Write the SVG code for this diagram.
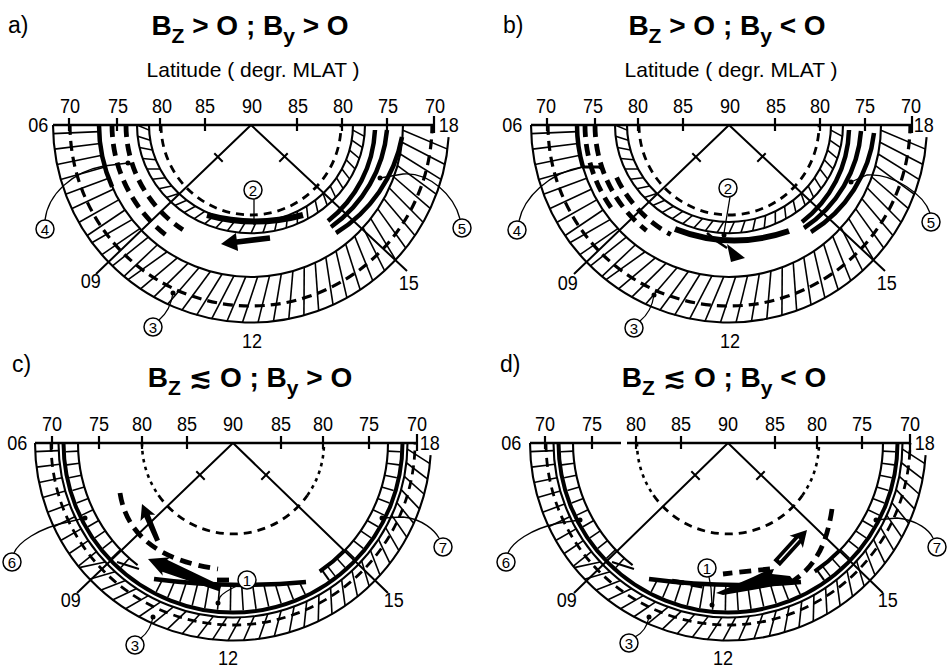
<svg xmlns="http://www.w3.org/2000/svg" width="948" height="670" viewBox="0 0 948 670">
<style>
.h{stroke:#000;stroke-width:1.6}
.e{fill:none;stroke:#000;stroke-width:2.1}
.th{fill:none;stroke:#000;stroke-width:4.5}
.tc{fill:none;stroke:#000;stroke-width:4}
.dO{fill:none;stroke:#000;stroke-width:3.2;stroke-dasharray:10 6}
.dC{fill:none;stroke:#000;stroke-width:2.8;stroke-dasharray:9 6}
.d80{fill:none;stroke:#000;stroke-width:2.8;stroke-dasharray:8 6}
.dS{fill:none;stroke:#000;stroke-width:2.6;stroke-dasharray:3.5 4.5}
.dT{fill:none;stroke:#000;stroke-width:4.8;stroke-dasharray:12 7}
.ax{fill:none;stroke:#000;stroke-width:2.7}
.tm{fill:none;stroke:#000;stroke-width:2.2}
.ln{fill:none;stroke:#000;stroke-width:2}
.ld{fill:none;stroke:#000;stroke-width:1.3}
.cl{fill:#fff;stroke:#000;stroke-width:1.5}
text{font-family:"Liberation Sans",Arial,"DejaVu Sans",sans-serif;fill:#000}
.tk,.hr,.he{font-size:21px;transform-box:fill-box;transform-origin:center;transform:scaleX(0.86)}
.tk{text-anchor:middle}
.he{text-anchor:end}
.cn{font-size:15px;text-anchor:middle}
.ti{font-size:28px;font-weight:bold;text-anchor:middle}
.pl{font-size:23px}
.la{font-size:21px;text-anchor:middle}
</style>
<defs>
<line id="l0" class="h" x1="152" y1="0" x2="198" y2="0"/>
<line id="l2" class="h" x1="152" y1="0" x2="197.88" y2="6.91"/>
<line id="l5" class="h" x1="152" y1="0" x2="197.25" y2="17.26"/>
<line id="m0" class="h" x1="174.5" y1="0" x2="198" y2="0"/>
<line id="m4" class="h" x1="174.5" y1="0" x2="197.52" y2="13.81"/>
<line id="n" class="h" x1="102" y1="0" x2="113.84" y2="5.97"/>
<line id="p" class="h" x1="155" y1="0" x2="167.5" y2="0"/>
<line id="q" class="h" x1="130" y1="0" x2="167.5" y2="0"/>
<polygon id="arrBig" points="0,0 -20,-10 -18,-6.5 -78,-3 -78,3 -18,6.5 -20,10"/>
<polygon id="arrSm" points="0,0 -15,-8 -13,-3 -40,-2.5 -40,2.5 -13,3 -15,8"/>
<clipPath id="cs"><path d="M-80 135.5Q-3 146 74 138.5L74 180L-80 180Z"/></clipPath>
<g id="bandAB">
<path class="e" d="M-198 0A198 198 0 0 0 197.6 12.1"/>
<path class="e" d="M-152 0A152 152 0 0 0 152 0"/>
<use href="#l5" transform="rotate(2)"/><use href="#l5" transform="rotate(6.5)"/><use href="#l5" transform="rotate(11)"/><use href="#l5" transform="rotate(15.5)"/><use href="#l5" transform="rotate(20)"/><use href="#l5" transform="rotate(24.5)"/><use href="#l5" transform="rotate(29)"/><use href="#l5" transform="rotate(33.5)"/><use href="#l5" transform="rotate(38)"/><use href="#l5" transform="rotate(42.5)"/><use href="#l5" transform="rotate(47)"/><use href="#l5" transform="rotate(51.5)"/><use href="#l5" transform="rotate(56)"/><use href="#l5" transform="rotate(60.5)"/><use href="#l5" transform="rotate(65)"/><use href="#l5" transform="rotate(69.5)"/><use href="#l5" transform="rotate(74)"/><use href="#l5" transform="rotate(78.5)"/><use href="#l5" transform="rotate(83)"/><use href="#l5" transform="rotate(87.5)"/><use href="#l5" transform="rotate(92)"/><use href="#l5" transform="rotate(96.5)"/><use href="#l5" transform="rotate(101)"/><use href="#l5" transform="rotate(105.5)"/><use href="#l5" transform="rotate(110)"/><use href="#l5" transform="rotate(114.5)"/><use href="#l5" transform="rotate(119)"/><use href="#l5" transform="rotate(123.5)"/>
<use href="#l2" transform="rotate(128)"/><use href="#l2" transform="rotate(132.5)"/><use href="#l2" transform="rotate(137)"/><use href="#l2" transform="rotate(141.5)"/>
<use href="#l0" transform="rotate(146)"/><use href="#l0" transform="rotate(150.5)"/><use href="#l0" transform="rotate(155)"/><use href="#l0" transform="rotate(159.5)"/><use href="#l0" transform="rotate(164)"/><use href="#l0" transform="rotate(168.5)"/><use href="#l0" transform="rotate(173)"/><use href="#l0" transform="rotate(177.5)"/>
<path class="dO" d="M-181 0A181 181 0 0 0 181 0"/>
</g>
<g id="ringAB" transform="scale(1 0.95)">
<path class="e" d="M-114 0A114 114 0 0 0 114 0"/>
<path class="e" d="M-102 0A102 102 0 0 0 102 0"/>
<use href="#n" transform="rotate(3)"/><use href="#n" transform="rotate(9)"/><use href="#n" transform="rotate(15)"/><use href="#n" transform="rotate(21)"/><use href="#n" transform="rotate(27)"/><use href="#n" transform="rotate(33)"/><use href="#n" transform="rotate(39)"/><use href="#n" transform="rotate(45)"/><use href="#n" transform="rotate(51)"/><use href="#n" transform="rotate(57)"/><use href="#n" transform="rotate(63)"/><use href="#n" transform="rotate(69)"/><use href="#n" transform="rotate(75)"/><use href="#n" transform="rotate(81)"/><use href="#n" transform="rotate(87)"/><use href="#n" transform="rotate(93)"/><use href="#n" transform="rotate(99)"/><use href="#n" transform="rotate(105)"/><use href="#n" transform="rotate(111)"/><use href="#n" transform="rotate(117)"/><use href="#n" transform="rotate(123)"/><use href="#n" transform="rotate(129)"/><use href="#n" transform="rotate(135)"/><use href="#n" transform="rotate(141)"/><use href="#n" transform="rotate(147)"/><use href="#n" transform="rotate(153)"/><use href="#n" transform="rotate(159)"/><use href="#n" transform="rotate(165)"/><use href="#n" transform="rotate(171)"/><use href="#n" transform="rotate(177)"/>
</g>
<g id="bandCD">
<path class="e" d="M-198 0A198 198 0 0 0 197.6 12.1"/>
<path class="e" d="M-174.5 0A174.5 174.5 0 0 0 174.5 0"/>
<use href="#m4" transform="rotate(2)"/><use href="#m4" transform="rotate(6.5)"/><use href="#m4" transform="rotate(11)"/><use href="#m4" transform="rotate(15.5)"/><use href="#m4" transform="rotate(20)"/><use href="#m4" transform="rotate(24.5)"/><use href="#m4" transform="rotate(29)"/><use href="#m4" transform="rotate(33.5)"/><use href="#m4" transform="rotate(38)"/><use href="#m4" transform="rotate(42.5)"/><use href="#m4" transform="rotate(47)"/><use href="#m4" transform="rotate(51.5)"/><use href="#m4" transform="rotate(56)"/><use href="#m4" transform="rotate(60.5)"/><use href="#m4" transform="rotate(65)"/><use href="#m4" transform="rotate(69.5)"/><use href="#m4" transform="rotate(74)"/><use href="#m4" transform="rotate(78.5)"/><use href="#m4" transform="rotate(83)"/><use href="#m4" transform="rotate(87.5)"/><use href="#m4" transform="rotate(92)"/><use href="#m4" transform="rotate(96.5)"/><use href="#m4" transform="rotate(101)"/><use href="#m4" transform="rotate(105.5)"/><use href="#m4" transform="rotate(110)"/><use href="#m4" transform="rotate(114.5)"/><use href="#m4" transform="rotate(119)"/><use href="#m4" transform="rotate(123.5)"/><use href="#m4" transform="rotate(128)"/><use href="#m4" transform="rotate(132.5)"/><use href="#m4" transform="rotate(137)"/>
<use href="#m0" transform="rotate(141.5)"/><use href="#m0" transform="rotate(146)"/><use href="#m0" transform="rotate(150.5)"/><use href="#m0" transform="rotate(155)"/><use href="#m0" transform="rotate(159.5)"/><use href="#m0" transform="rotate(164)"/><use href="#m0" transform="rotate(168.5)"/><use href="#m0" transform="rotate(173)"/><use href="#m0" transform="rotate(177.5)"/>
<path class="dC" d="M-182 0A182 182 0 0 0 182 0"/>
<path class="tc" d="M-169.5 0A169.5 169.5 0 0 0 169.5 0"/>
</g>
<g id="ringsCD">
<path class="e" d="M-155 0A155 155 0 0 0 -95.4 122.1"/>
<path class="e" d="M-116 119L-94 126"/>
<path class="e" d="M155 0A155 155 0 0 1 88.9 127"/>
<line class="e" x1="88.9" y1="127" x2="96.1" y2="137.2"/>
<path class="tc" d="M111.5 107.7A155 155 0 0 1 86.7 128.5"/>
<use href="#p" transform="rotate(132)"/><use href="#p" transform="rotate(136.5)"/><use href="#p" transform="rotate(141)"/><use href="#p" transform="rotate(145.5)"/><use href="#p" transform="rotate(150)"/><use href="#p" transform="rotate(154.5)"/><use href="#p" transform="rotate(159)"/><use href="#p" transform="rotate(163.5)"/><use href="#p" transform="rotate(168)"/><use href="#p" transform="rotate(172.5)"/><use href="#p" transform="rotate(177)"/>
<use href="#p" transform="rotate(3)"/><use href="#p" transform="rotate(7.5)"/><use href="#p" transform="rotate(12)"/><use href="#p" transform="rotate(16.5)"/><use href="#p" transform="rotate(21)"/><use href="#p" transform="rotate(25.5)"/><use href="#p" transform="rotate(30)"/><use href="#p" transform="rotate(34.5)"/><use href="#p" transform="rotate(39)"/><use href="#p" transform="rotate(43.5)"/><use href="#p" transform="rotate(48)"/><use href="#p" transform="rotate(52.5)"/>
</g>
<g id="seg1">
<g clip-path="url(#cs)">
<use href="#q" transform="rotate(64.5)"/><use href="#q" transform="rotate(68.9)"/><use href="#q" transform="rotate(73.3)"/><use href="#q" transform="rotate(77.7)"/><use href="#q" transform="rotate(82.1)"/><use href="#q" transform="rotate(86.5)"/><use href="#q" transform="rotate(90.9)"/><use href="#q" transform="rotate(95.3)"/><use href="#q" transform="rotate(99.7)"/><use href="#q" transform="rotate(104.1)"/><use href="#q" transform="rotate(108.5)"/><use href="#q" transform="rotate(112.9)"/><use href="#q" transform="rotate(117.3)"/>
</g>
<path class="th" d="M-79 136Q-3 146 73 139"/>
</g>
<g id="d80cd">
<path class="dS" d="M-91 0A91 91 0 0 0 -74.5 52.2"/>
<path class="d80" d="M-74.5 52.2A91 91 0 0 0 74.5 52.2"/>
<path class="dS" d="M74.5 52.2A91 91 0 0 0 91 0"/>
</g>
</defs>
<rect width="948" height="670" fill="#fff"/>

<g id="titles">
<text class="pl" x="8" y="33">a)</text>
<text class="ti" x="250" y="35">B<tspan font-size="21" dy="8">Z</tspan><tspan dy="-8"> &gt; O ; B</tspan><tspan font-size="21" dy="8">y</tspan><tspan dy="-8"> &gt; O</tspan></text>
<text class="la" x="253" y="77">Latitude ( degr. MLAT )</text>
<text class="pl" x="503" y="33">b)</text>
<text class="ti" x="727" y="35">B<tspan font-size="21" dy="8">Z</tspan><tspan dy="-8"> &gt; O ; B</tspan><tspan font-size="21" dy="8">y</tspan><tspan dy="-8"> &lt; O</tspan></text>
<text class="la" x="731" y="77">Latitude ( degr. MLAT )</text>
<text class="pl" x="12" y="372">c)</text>
<text class="ti" x="250" y="387">B<tspan font-size="21" dy="8">Z</tspan><tspan dy="-8"> &#8818; O ; B</tspan><tspan font-size="21" dy="8">y</tspan><tspan dy="-8"> &gt; O</tspan></text>
<text class="pl" x="500" y="372">d)</text>
<text class="ti" x="724" y="387">B<tspan font-size="21" dy="8">Z</tspan><tspan dy="-8"> &#8818; O ; B</tspan><tspan font-size="21" dy="8">y</tspan><tspan dy="-8"> &lt; O</tspan></text>
</g>

<g id="panel-a" transform="translate(251 125)">
<use href="#bandAB"/>
<path class="th" d="M-152 0A152 152 0 0 0 -138.9 61.8"/>
<path class="dT" d="M-139 0A139 139 0 0 0 -81.7 112.5"/>
<path class="dT" d="M-125 0A125 125 0 0 0 -68.1 104.8"/>
<use href="#ringAB"/>
<path class="d80" d="M-90 0A90 90 0 0 0 90 0"/>
<path fill="none" stroke="#000" stroke-width="6" d="M-44 90Q4 103 52 90"/>
<polygon points="-30,119 -15.1,108.1 -14.3,114.2 18.7,110.2 19.3,115.8 -13.7,119.8 -12.9,125.9"/>
<path class="th" d="M124 5A123 123 0 0 1 77 96"/>
<path class="th" d="M136 5A133 133 0 0 1 80 102"/>
<path class="th" d="M151 12A144 144 0 0 1 85 108"/>
<path class="ln" d="M0 0L-155 149M0 0L156 146M-36.7 28.3L-28.3 36.7M36.7 28.3L28.3 36.7"/>
<path class="ax" d="M-198 0H183"/>
<path class="tm" d="M-182-7V6M-134-7V6M-91-7V6M-46-7V6M46-7V6M91-7V6M136-7V6M183-9V8"/>
<text class="tk" x="-181" y="-12">70</text><text class="tk" x="-133" y="-12">75</text><text class="tk" x="-89" y="-12">80</text><text class="tk" x="-46" y="-12">85</text><text class="tk" x="1" y="-12">90</text><text class="tk" x="47" y="-12">85</text><text class="tk" x="92" y="-12">80</text><text class="tk" x="137" y="-12">75</text><text class="tk" x="184" y="-12">70</text>
<text class="he" x="-201" y="7">06</text><text class="hr" x="186" y="7">18</text><text class="hr" x="-172" y="163">09</text><text class="hr" x="146" y="165">15</text><text class="tk" x="1" y="223">12</text>
<g id="a-l2"><path class="ld" d="M3 74V100"/><circle class="cl" cx="2" cy="65" r="9"/><text class="cn" x="2" y="70.5">2</text></g>
<g id="a-l4"><circle cx="-123" cy="38" r="2.5"/><path class="ld" d="M-123 38L-147 41C-180 47-203 70-206 95"/><circle class="cl" cx="-206" cy="104" r="9"/><text class="cn" x="-206" y="109.5">4</text></g>
<g id="a-l5"><circle cx="129" cy="53" r="2.5"/><path class="ld" d="M129 53L152 49C178 47 203 70 209 94"/><circle class="cl" cx="211" cy="103" r="9"/><text class="cn" x="211" y="108.5">5</text></g>
<g id="a-l3"><circle cx="-78" cy="168" r="2.5"/><path class="ld" d="M-78 168C-80 182-86 190-92 195"/><circle class="cl" cx="-98" cy="202" r="9"/><text class="cn" x="-98" y="207.5">3</text></g>
</g>

<g id="panel-b" transform="translate(729 125)">
<use href="#bandAB"/>
<path class="th" d="M-152 0A152 152 0 0 0 -146.1 41.9"/>
<path fill="none" stroke="#000" stroke-width="3" d="M-147 42H-128"/>
<path class="dT" d="M-144 0A144 144 0 0 0 -118 82.6"/>
<path class="dT" d="M-134 0A134 134 0 0 0 -82.5 105.6"/>
<path class="dT" d="M-112.4 52.4A124 124 0 0 0 -58.2 109.5"/>
<use href="#ringAB"/>
<path class="d80" d="M-90 0A90 90 0 0 0 90 0"/>
<path fill="none" stroke="#000" stroke-width="6" d="M-54 104Q2 126 60 106"/>
<path fill="none" stroke="#000" stroke-width="2.5" d="M-22 108Q-12 117-2 123"/>
<polygon points="-2,119 16,133 2,137"/>
<path class="th" d="M120 5A120 120 0 0 1 73 97"/>
<path class="th" d="M132 6A127 127 0 0 1 75 103"/>
<path class="th" d="M145 8A134 134 0 0 1 82 107"/>
<path class="ln" d="M0 0L-155 149M0 0L156 146M-36.7 28.3L-28.3 36.7M36.7 28.3L28.3 36.7"/>
<path class="ax" d="M-198 0H183"/>
<path class="tm" d="M-182-7V6M-134-7V6M-91-7V6M-46-7V6M46-7V6M91-7V6M136-7V6M183-9V8"/>
<text class="tk" x="-183" y="-12">70</text><text class="tk" x="-136" y="-12">75</text><text class="tk" x="-91" y="-12">80</text><text class="tk" x="-46" y="-12">85</text><text class="tk" x="1" y="-12">90</text><text class="tk" x="47" y="-12">85</text><text class="tk" x="91" y="-12">80</text><text class="tk" x="136" y="-12">75</text><text class="tk" x="182" y="-12">70</text>
<text class="he" x="-205" y="7">06</text><text class="hr" x="183" y="7">18</text><text class="hr" x="-173" y="165">09</text><text class="hr" x="146" y="165">15</text><text class="tk" x="1" y="223">12</text>
<g id="b-l2"><circle cx="-5" cy="110" r="2.5"/><path class="ld" d="M1 72L-5 108"/><circle class="cl" cx="-1" cy="63" r="9"/><text class="cn" x="-1" y="68.5">2</text></g>
<g id="b-l4"><circle cx="-128" cy="42" r="2.5"/><path class="ld" d="M-147 42C-180 48-205 72-210 96"/><circle class="cl" cx="-212" cy="105" r="9"/><text class="cn" x="-212" y="110.5">4</text></g>
<g id="b-l5"><circle cx="122" cy="57" r="2.5"/><path class="ld" d="M122 57L138 50C165 48 195 70 201 88"/><circle class="cl" cx="202" cy="97" r="9"/><text class="cn" x="202" y="102.5">5</text></g>
<g id="b-l3"><circle cx="-75" cy="170" r="2.5"/><path class="ld" d="M-75 170C-77 184-84 192-89 196"/><circle class="cl" cx="-95" cy="203" r="9"/><text class="cn" x="-95" y="208.5">3</text></g>
</g>

<g id="panel-c" transform="translate(233 443)">
<use href="#bandCD"/>
<use href="#ringsCD"/>
<use href="#seg1"/>
<use href="#d80cd"/>
<path class="dT" d="M-113 50C-106 95-70 118-15 126"/>
<path class="dT" d="M-16 137H2"/>
<use href="#arrBig" transform="translate(-85 116) rotate(202.2)"/>
<use href="#arrSm" transform="translate(-91 61) rotate(247)"/>
<path class="ln" d="M0 0L-156 150M0 0L155 150M-36.7 28.3L-28.3 36.7M36.7 28.3L28.3 36.7"/>
<path class="ax" d="M-198 0H184"/>
<path class="tm" d="M-181-7V6M-134-7V6M-91-7V6M-46-7V6M48-7V6M90-7V6M136-7V6M184-9V8"/>
<text class="tk" x="-181" y="-12">70</text><text class="tk" x="-134" y="-12">75</text><text class="tk" x="-91" y="-12">80</text><text class="tk" x="-46" y="-12">85</text><text class="tk" x="0" y="-12">90</text><text class="tk" x="48" y="-12">85</text><text class="tk" x="90" y="-12">80</text><text class="tk" x="136" y="-12">75</text><text class="tk" x="184" y="-12">70</text>
<text class="he" x="-204" y="7">06</text><text class="hr" x="185" y="7">18</text><text class="hr" x="-174" y="164">09</text><text class="hr" x="149" y="164">15</text><text class="tk" x="-5" y="222">12</text>
<g id="c-l6"><circle cx="-148" cy="75" r="2.5"/><path class="ld" d="M-148 75L-165 79C-195 85-215 100-219 110"/><circle class="cl" cx="-221" cy="119" r="9"/><text class="cn" x="-221" y="124.5">6</text></g>
<g id="c-l7"><circle cx="149" cy="75" r="2.5"/><path class="ld" d="M149 75L170 74C190 76 202 88 206 95"/><circle class="cl" cx="210" cy="104" r="9"/><text class="cn" x="210" y="109.5">7</text></g>
<g id="c-l1"><circle cx="-15" cy="160" r="2.5"/><path class="ld" d="M6 142C-3 146-10 150-13 154L-15 160"/><circle class="cl" cx="14" cy="137" r="9"/><text class="cn" x="14" y="142.5">1</text></g>
<g id="c-l3"><circle cx="-80" cy="174" r="2.5"/><path class="ld" d="M-80 174C-82 185-88 192-92 195"/><circle class="cl" cx="-98" cy="202" r="9"/><text class="cn" x="-98" y="207.5">3</text></g>
</g>

<g id="panel-d" transform="translate(728 443)">
<use href="#bandCD"/>
<use href="#ringsCD"/>
<use href="#seg1"/>
<use href="#d80cd"/>
<path class="dT" d="M104 66C99 100 88 124 62 140"/>
<path class="dT" d="M42 126Q20 128-5 131"/>
<path class="dT" d="M-56 138L-20 144"/>
<polygon points="-12,150 25,134 40,127 46,126 44,131 62,133 67,139 30,146 -5,152"/>
<g transform="translate(79 87) rotate(-47.6)">
<polygon points="0,0 -16,-9 -14,-4.5 -45,-4.5 -45,4.5 -14,4.5 -16,9"/>
<path fill="none" stroke="#fff" stroke-width="1.5" d="M-41 0H-12"/>
</g>
<path class="ln" d="M0 0L-154 150M0 0L155 150M-36.7 28.3L-28.3 36.7M36.7 28.3L28.3 36.7"/>
<path class="ax" d="M-198 0H-107M-101 0H182"/>
<path class="tm" d="M-183-7V6M-136-7V6M-92-7V6M-47-7V6M47-7V6M89-7V6M134-7V6M182-9V8"/>
<text class="tk" x="-183" y="-12">70</text><text class="tk" x="-136" y="-12">75</text><text class="tk" x="-92" y="-12">80</text><text class="tk" x="-47" y="-12">85</text><text class="tk" x="0" y="-12">90</text><text class="tk" x="47" y="-12">85</text><text class="tk" x="89" y="-12">80</text><text class="tk" x="134" y="-12">75</text><text class="tk" x="182" y="-12">70</text>
<text class="he" x="-205" y="7">06</text><text class="hr" x="185" y="7">18</text><text class="hr" x="-173" y="164">09</text><text class="hr" x="148" y="164">15</text><text class="tk" x="-5" y="222">12</text>
<g id="d-l6"><circle cx="-148" cy="77" r="2.5"/><path class="ld" d="M-148 77L-169 80C-198 86-216 100-220 110"/><circle class="cl" cx="-222" cy="119" r="9"/><text class="cn" x="-222" y="124.5">6</text></g>
<g id="d-l7"><circle cx="148" cy="77" r="2.5"/><path class="ld" d="M148 77L169 75C190 77 202 88 205 95"/><circle class="cl" cx="209" cy="104" r="9"/><text class="cn" x="209" y="109.5">7</text></g>
<g id="d-l1"><circle cx="-16" cy="162" r="2.5"/><path class="ld" d="M-19 134L-17 145L-16 162"/><circle class="cl" cx="-21" cy="125" r="9"/><text class="cn" x="-21" y="130.5">1</text></g>
<g id="d-l3"><circle cx="-79" cy="174" r="2.5"/><path class="ld" d="M-79 174C-81 185-87 191-93 194"/><circle class="cl" cx="-99" cy="200" r="9"/><text class="cn" x="-99" y="205.5">3</text></g>
</g>
</svg>
